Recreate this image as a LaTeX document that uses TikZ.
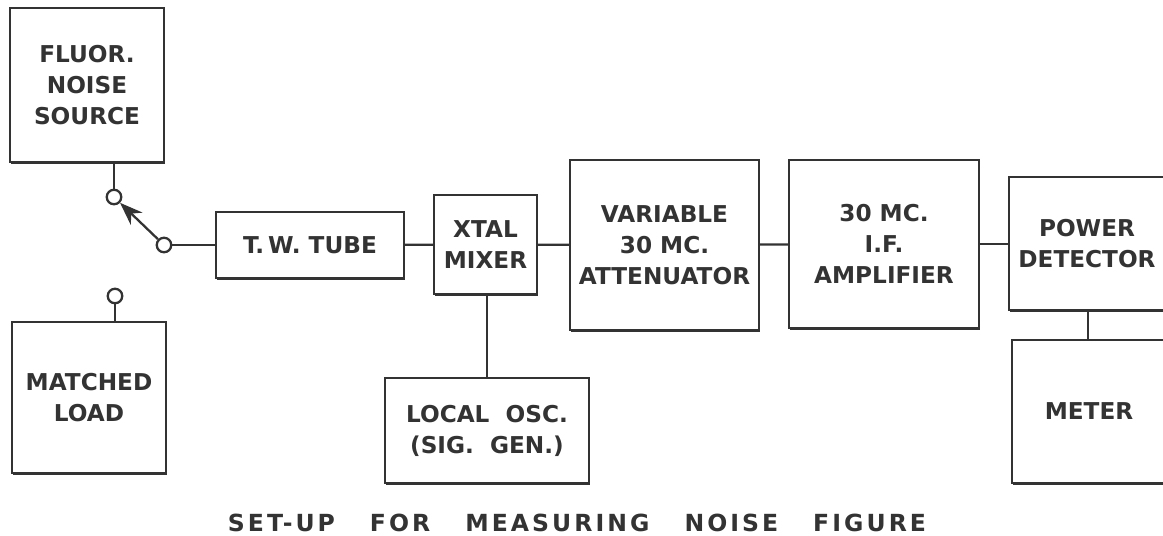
\documentclass[tikz,border=0pt]{standalone}
\usepackage{fontspec}
\setmainfont{DejaVu Sans}
\newfontfamily\titlefont[LetterSpace=13]{DejaVu Sans Bold}
\usetikzlibrary{arrows.meta,shadows}
\definecolor{ink}{gray}{0.2}
\tikzset{
  % one block of the set-up
  unit/.style={draw=ink, fill=white, line width=1.4pt, align=center,
    inner sep=0pt, text=ink,
    font=\bfseries\fontsize{13.2}{17.6}\selectfont,
    drop shadow={shadow xshift=0.8pt, shadow yshift=-1.1pt, fill=ink, opacity=1}},
  % plain connecting line
  wire/.style={draw=ink, line width=1.3pt},
  % switch contact
  contact/.style={circle, draw=ink, fill=white, line width=1.3pt,
    inner sep=0pt, minimum size=0.29cm},
}

\begin{document}
\begin{tikzpicture}[x=0.02cm, y=-0.02cm]
  \useasboundingbox (0,0) rectangle (1163,535);
  % Draw the blocks
  \node[unit, minimum width=3.08cm, minimum height=3.08cm] (fluor) at (87,85) {FLUOR.\\NOISE\\SOURCE};
  \node[unit, minimum width=3.08cm, minimum height=3.02cm] (load) at (89,397.5) {MATCHED\\LOAD};
  \node[unit, minimum width=3.76cm, minimum height=1.32cm] (tube) at (310,245) {T.\,W.~TUBE};
  \node[unit, minimum width=2.06cm, minimum height=1.98cm] (mixer) at (485.5,244.5) {XTAL\\MIXER};
  \node[unit, minimum width=4.08cm, minimum height=2.1cm] (osc) at (487,430.5) {LOCAL~~OSC.\\(SIG.~~GEN.)};
  \node[unit, minimum width=3.78cm, minimum height=3.4cm] (atten) at (664.5,245) {VARIABLE\\30 MC.\\ATTENUATOR};
  \node[unit, minimum width=3.8cm, minimum height=3.36cm] (amp) at (884,244) {30 MC.\\I.F.\\AMPLIFIER};
  \node[unit, minimum width=3.12cm, minimum height=2.66cm] (detector) at (1087,243.5) {POWER\\DETECTOR};
  \node[unit, minimum width=3.08cm, minimum height=2.86cm] (meter) at (1089,411.5) {METER};
  % the switch
  \node[contact] (upper) at (114,197) {};
  \node[contact] (lower) at (115,296) {};
  \node[contact] (pivot) at (164,245) {};
  \draw[wire] (fluor.south -| upper) -- (upper);
  \draw[wire] (lower) -- (lower |- load.north);
  \draw[wire, -{Stealth[length=0.46cm, width=0.34cm]}] (pivot) -- (upper);
  % Draw the chain
  \draw[wire] (pivot) -- (tube);
  \draw[wire] (tube) -- (mixer);
  \draw[wire] (mixer) -- (atten);
  \draw[wire] (atten) -- (amp);
  \draw[wire] (amp.east) -- (detector.west |- amp.east);
  \draw[wire] (detector.south -| 1088,0) -- (meter.north -| 1088,0);
  \draw[wire] (mixer.south -| osc) -- (osc);
  \node[text=ink, inner sep=0pt, anchor=base, font=\titlefont\fontsize{13.4}{15}\selectfont] (caption) at (577,531)
    {SET-UP\hspace{0.7cm}FOR\hspace{0.7cm}MEASURING\hspace{0.7cm}NOISE\hspace{0.7cm}FIGURE};
\end{tikzpicture}
\end{document}
